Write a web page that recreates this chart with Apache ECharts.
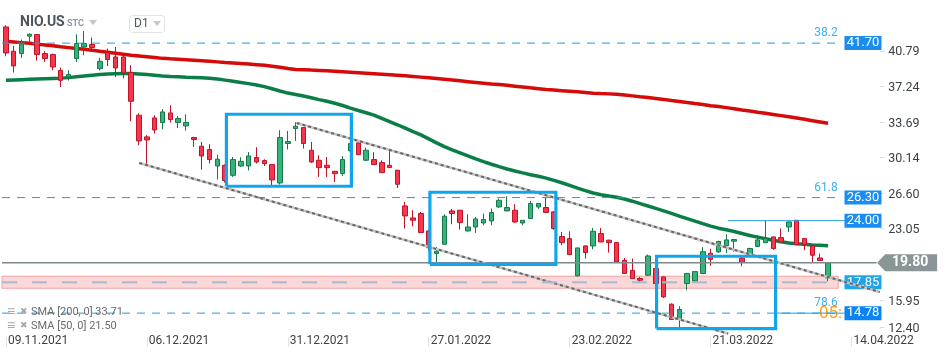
<!DOCTYPE html>
<html><head><meta charset="utf-8">
<script src="https://cdn.jsdelivr.net/npm/echarts@6/dist/echarts.min.js"></script>
<style>html,body{margin:0;padding:0;background:#fff}#c{width:950px;height:360px}</style>
</head><body><div id="c"></div>
<script>
// ---------- DATA ----------
const dates = ['09.11.2021','10.11.2021','11.11.2021','12.11.2021','15.11.2021','16.11.2021','17.11.2021','18.11.2021','19.11.2021','22.11.2021','23.11.2021','24.11.2021','26.11.2021','29.11.2021','30.11.2021',
'01.12.2021','02.12.2021','03.12.2021','06.12.2021','07.12.2021','08.12.2021','09.12.2021','10.12.2021','13.12.2021','14.12.2021','15.12.2021','16.12.2021','17.12.2021','20.12.2021','21.12.2021','22.12.2021','23.12.2021','27.12.2021','28.12.2021','29.12.2021','30.12.2021','31.12.2021',
'03.01.2022','04.01.2022','05.01.2022','06.01.2022','07.01.2022','10.01.2022','11.01.2022','12.01.2022','13.01.2022','14.01.2022','18.01.2022','19.01.2022','20.01.2022','21.01.2022','24.01.2022','25.01.2022','26.01.2022','27.01.2022','28.01.2022','31.01.2022',
'01.02.2022','02.02.2022','03.02.2022','04.02.2022','07.02.2022','08.02.2022','09.02.2022','10.02.2022','11.02.2022','14.02.2022','15.02.2022','16.02.2022','17.02.2022','18.02.2022','22.02.2022','23.02.2022','24.02.2022','25.02.2022','28.02.2022',
'01.03.2022','02.03.2022','03.03.2022','04.03.2022','07.03.2022','08.03.2022','09.03.2022','10.03.2022','11.03.2022','14.03.2022','15.03.2022','16.03.2022','17.03.2022','18.03.2022','21.03.2022','22.03.2022','23.03.2022','24.03.2022','25.03.2022','28.03.2022','29.03.2022','30.03.2022','31.03.2022',
'01.04.2022','04.04.2022','05.04.2022','06.04.2022','07.04.2022','08.04.2022','11.04.2022','12.04.2022','13.04.2022','14.04.2022','18.04.2022','19.04.2022','20.04.2022','21.04.2022','22.04.2022','25.04.2022','26.04.2022','27.04.2022','28.04.2022','29.04.2022','02.05.2022'];

// [open, close, low, high]
const candles = [
[43.31,40.72,40.39,43.48],[40.89,39.43,38.77,41.42],[40.66,41.60,40.22,42.06],[42.39,42.58,41.82,42.68],[42.55,40.56,39.96,42.60],
[40.66,40.16,39.82,40.89],[40.56,39.32,38.99,40.66],[38.99,37.99,37.33,39.26],[38.33,38.57,37.97,38.99],[40.16,41.66,39.82,42.58],
[41.32,41.66,40.49,42.91],[41.56,41.26,40.82,42.26],[39.16,39.89,38.99,40.22],[40.76,40.06,39.42,41.16],[40.32,39.22,38.33,41.32],
[40.32,38.73,38.20,40.42],[38.76,35.90,33.91,39.49],[34.51,31.95,31.52,34.71],[32.35,32.05,29.62,32.52],[34.24,33.04,32.68,34.51],
[33.78,34.84,33.11,35.11],[34.74,34.08,33.78,35.51],[33.78,34.18,33.24,34.44],[33.44,33.78,32.98,34.61],[32.29,32.09,31.35,32.35],
[31.42,30.45,29.09,31.85],[31.09,30.09,29.69,31.62],[29.45,30.12,28.10,30.59],[29.52,28.00,27.80,29.60],[28.52,30.09,28.36,30.35],
[29.45,29.92,29.35,30.32],[29.45,30.45,29.00,30.85],[30.29,29.85,29.69,31.32],[29.99,29.69,29.45,30.12],[29.59,28.06,27.53,29.65],
[27.76,32.29,27.60,33.02],[31.69,31.89,31.09,32.94],[33.18,33.41,31.95,33.81],[33.28,31.69,31.19,33.31],[31.02,29.85,29.75,31.85],
[30.02,29.29,28.36,30.52],[29.52,29.29,28.36,30.35],[28.92,28.69,27.86,28.95],[28.69,30.09,28.46,30.42],[30.95,31.69,30.80,31.90],
[31.75,30.59,30.55,32.02],[30.02,31.02,29.98,31.29],[30.09,29.59,29.55,30.82],[29.79,28.79,28.75,30.02],[29.52,29.29,29.25,30.95],
[29.03,27.63,27.26,29.06],[25.47,24.47,23.21,25.87],[24.27,24.04,23.44,25.04],[24.71,22.81,22.78,24.87],[22.97,21.30,21.00,23.10],
[20.72,20.95,19.88,21.38],[21.65,24.44,21.60,24.64],[24.97,24.71,23.64,25.17],[25.04,23.81,23.11,25.07],[22.97,23.37,22.93,24.64],
[23.37,24.17,22.77,24.37],[23.77,24.11,23.54,24.71],[23.97,24.81,23.54,25.21],[25.37,26.03,25.27,26.20],[24.97,25.31,24.95,26.43],
[25.04,23.87,23.77,25.64],[23.77,24.04,23.54,24.06],[24.21,25.71,24.18,25.97],[25.37,25.71,25.17,25.73],[25.31,24.81,24.78,26.30],
[24.87,23.21,23.10,24.95],[22.41,21.81,21.55,22.87],[22.21,20.62,20.60,22.94],[18.49,21.28,18.45,21.30],[21.48,20.82,20.22,21.55],
[21.48,22.94,21.15,23.27],[22.71,21.88,21.85,23.27],[22.05,21.81,20.82,22.10],[21.81,19.88,19.85,21.85],[20.05,18.73,18.70,20.28],
[19.05,18.23,18.20,20.22],[18.23,18.06,17.83,18.39],[18.56,20.48,18.50,20.62],[19.23,17.73,17.60,19.40],[18.39,16.40,16.30,18.45],
[15.67,14.14,14.10,15.75],[14.14,15.14,13.40,15.47],[17.73,18.73,17.06,18.80],[17.99,18.92,17.90,18.95],[18.73,20.90,18.70,21.35],
[20.75,20.15,19.50,21.20],[20.88,21.92,20.80,22.00],[21.50,22.08,20.78,22.63],[21.95,22.12,20.90,22.15],[20.25,19.85,19.46,20.45],
[20.50,21.22,20.40,21.30],[21.43,22.08,21.38,22.55],[21.81,22.21,21.75,24.02],[22.38,21.22,21.10,22.40],[22.31,21.88,21.85,23.21],
[23.37,23.87,22.87,23.94],[24.04,21.62,21.60,24.06],[22.21,21.62,21.05,22.25],[21.48,20.55,19.88,21.50],[20.28,20.02,19.98,20.72],
[18.29,19.80,17.96,19.88]];

const sma200 = [41.89,41.82,41.75,41.68,41.60,41.52,41.44,41.34,41.25,41.16,41.08,40.99,40.89,40.80,40.70,40.60,40.49,40.42,40.35,40.27,
40.18,40.13,40.09,40.05,40.00,39.95,39.89,39.83,39.77,39.72,39.67,39.61,39.55,39.49,39.40,39.30,39.18,39.08,39.05,39.01,
38.98,38.94,38.90,38.85,38.80,38.75,38.70,38.65,38.60,38.55,38.50,38.44,38.38,38.31,38.24,38.17,38.10,38.02,37.94,37.86,
37.78,37.70,37.62,37.57,37.49,37.41,37.33,37.24,37.16,37.08,37.02,36.96,36.90,36.84,36.78,36.71,36.67,36.64,36.60,36.52,
36.44,36.35,36.27,36.18,36.09,35.98,35.88,35.78,35.67,35.57,35.46,35.38,35.27,35.16,35.04,34.93,34.81,34.70,34.59,34.47,
34.35,34.23,34.10,33.97,33.84,33.71];

const sma50 = [37.99,38.03,38.06,38.09,38.12,38.15,38.18,38.21,38.26,38.34,38.42,38.50,38.56,38.62,38.65,38.67,38.66,38.62,38.57,38.50,
38.43,38.38,38.34,38.30,38.27,38.24,38.20,38.12,38.01,37.90,37.78,37.66,37.52,37.36,37.15,36.93,36.72,36.58,36.42,36.25,
36.07,35.90,35.70,35.48,35.22,34.98,34.76,34.52,34.20,33.88,33.56,33.22,32.88,32.55,32.15,31.75,31.38,31.05,30.75,30.45,
30.15,29.88,29.62,29.38,29.15,28.95,28.76,28.58,28.42,28.24,28.02,27.78,27.52,27.25,27.00,26.76,26.58,26.45,26.34,26.16,
25.94,25.70,25.46,25.22,24.98,24.72,24.46,24.20,23.95,23.70,23.46,23.25,23.10,22.92,22.72,22.52,22.36,22.20,22.04,21.90,
21.78,21.70,21.64,21.58,21.54,21.50];

const yTicks = [12.40, 15.95, 23.05, 26.60, 30.14, 33.69, 37.24, 40.79];
const fibPct = ['38.2', '61.8', '78.6'];
const fibPrice = [41.70, 26.30, 14.78];
const resistance = 24.00;
const supportLevel = 17.85;
const supportZone = [17.26, 18.46];
const lastPrice = 19.80;
// trend channel & rectangles, in [candle index, price]
const channelUpper = [[37.13, 33.74], [111.6, 16.89]];
const channelLower = [[17.03, 29.75], [92.25, 12.74]];
const boxes = [[28.16, 44.12, 27.43, 34.61], [54.15, 70.24, 19.65, 26.83], [83.1, 98.3, 13.24, 20.45]];

// ---------- CHART ----------
const FONT = 'Roboto, "Noto Sans", sans-serif';
const lineEnd = 106.74;
const tagX = 109.46;
const chart = echarts.init(document.getElementById('c'), null, {renderer: 'canvas'});

// a horizontal level drawn as a two-point line series (optionally with a text label via markLine)
function levelSeries(price, x0, x1, lineStyle, label, z) {
  const s = {
    type: 'line', xAxisIndex: 1, z: z || 7, silent: true, symbol: 'none',
    color: lineStyle.color,
    lineStyle: lineStyle,
    data: [[x0, price], [x1, price]]
  };
  if (label) {
    s.markLine = {
      silent: true, animation: false, symbol: ['none', 'none'],
      lineStyle: {color: 'rgba(0,0,0,0)', width: 0},
      label: label,
      data: [[{coord: [x0, price]}, {coord: [x1, price]}]]
    };
  }
  return s;
}

const levelSeriesList = [];
fibPrice.forEach((p, i) => {
  levelSeriesList.push(levelSeries(p, -0.5, lineEnd,
    {color: '#1d9be3', width: 1, type: [8, 7]},
    {show: true, position: 'insideEndTop', formatter: fibPct[i], color: '#3cb0ef', fontSize: 12, fontFamily: FONT, distance: 4}));
});
levelSeriesList.push(levelSeries(resistance, 92.2, lineEnd + 0.4, {color: '#2a9ee6', width: 1, type: 'solid'}));
levelSeriesList.push(levelSeries(fibPrice[2], 98.3, lineEnd + 0.4, {color: '#2a9ee6', width: 1, type: 'solid'}));
levelSeriesList.push(levelSeries(supportLevel, -0.5, 106.3, {color: '#a9b8cc', width: 2, type: [15, 15]}));
levelSeriesList.push(levelSeries(lastPrice, -0.5, 111.2, {color: '#7f898c', width: 1.5, type: 'solid'}, null, 4));

function priceTag(price, bg) {
  return {
    coord: [tagX, price], symbol: 'rect', symbolSize: [37, 14], itemStyle: {color: bg},
    label: {show: true, position: 'inside', formatter: price.toFixed(2), color: '#fff', fontSize: 13, fontFamily: FONT}
  };
}
const tags = [
  priceTag(fibPrice[0], '#1a8ef0'),
  priceTag(fibPrice[1], '#1a8ef0'),
  priceTag(resistance, '#1a8ef0'),
  priceTag(supportLevel, '#1fa3ec'),
  priceTag(fibPrice[2], '#0a84f5'),
  {
    coord: [115.1, lastPrice], symbol: 'path://M0,8L8,0L60,0L60,16L8,16Z', symbolSize: [60, 17],
    itemStyle: {color: '#8a9598'},
    label: {show: true, position: 'inside', formatter: lastPrice.toFixed(2), color: '#fff', fontSize: 14,
      fontWeight: 'bold', fontFamily: FONT, offset: [3, 0]}
  }
];

const boxSeries = boxes.map(b => ({
  type: 'line', xAxisIndex: 1, yAxisIndex: 0, z: 6, silent: true, symbol: 'none', color: '#10a6ee',
  lineStyle: {color: '#10a6ee', width: 3.2, join: 'miter'},
  data: [[b[0], b[2]], [b[1], b[2]], [b[1], b[3]], [b[0], b[3]], [b[0], b[2]]]
}));

function channel(data) {
  return [
    {type: 'line', xAxisIndex: 1, z: 5, silent: true, symbol: 'none', data: data,
     lineStyle: {color: '#c4c4c4', width: 2.5}},
    {type: 'line', xAxisIndex: 1, z: 5, silent: true, symbol: 'none', data: data,
     lineStyle: {color: '#666666', width: 2, type: [3, 3]}}
  ];
}

const option = {
  animation: false,
  backgroundColor: '#fff',
  textStyle: {fontFamily: FONT},
  grid: {left: 2, right: 8.4, top: 2, bottom: 23, outerBoundsMode: 'none', containLabel: false},
  xAxis: [{
    type: 'category', data: dates, boundaryGap: true,
    axisLine: {show: false},
    axisTick: {show: true, alignWithLabel: true, interval: (i) => i % 18 === 0, length: 10, lineStyle: {color: '#e2e2e2'}},
    axisLabel: {interval: (i) => i % 18 === 0, align: 'left', verticalAlign: 'middle', margin: 4,
      padding: [0, 0, 0, 2], color: '#3d4246', fontSize: 12, fontFamily: FONT},
    splitLine: {show: false}
  }, {
    type: 'value', min: -0.5, max: 119.5, show: false
  }],
  yAxis: {
    type: 'value', position: 'right', min: 12.40, max: 45.80, scale: true,
    splitLine: {show: false}, axisLine: {show: false}, axisTick: {show: false},
    axisLabel: {
      inside: true, margin: 22, customValues: yTicks,
      formatter: (v) => {
        const s = '{t|–}{n|' + v.toFixed(2) + '}';
        return Math.abs(v - 12.40) < 1e-6 ? s + '\n{n| }' : s;
      },
      rich: {
        t: {color: '#d0d0d0', fontSize: 9, padding: [0, 3, 0, 0], fontFamily: FONT},
        n: {color: '#3d4246', fontSize: 12.5, lineHeight: 16, fontFamily: FONT}
      }
    }
  },
  series: [
    {type: 'line', name: 'SMA200', data: sma200, symbol: 'none', z: 1, silent: true, color: '#d50a0a',
     lineStyle: {color: '#d50a0a', width: 3.5}},
    {type: 'line', name: 'SMA50', data: sma50, symbol: 'none', z: 1, silent: true, color: '#0b7e48',
     lineStyle: {color: '#0b7e48', width: 3.5}},
    {type: 'candlestick', name: 'NIO.US', data: candles, barWidth: 5, z: 2,
     itemStyle: {color: '#36b27b', color0: '#f4374d', borderColor: '#17794a', borderColor0: '#bf1329', borderWidth: 1}},
    {type: 'line', xAxisIndex: 1, data: [], z: 3, silent: true,
     markArea: {silent: true, itemStyle: {color: 'rgba(247,160,160,0.42)', borderColor: '#f2a3a3', borderWidth: 1},
       data: [[{coord: [-0.5, supportZone[0]]}, {coord: [106.3, supportZone[1]]}]]}},
    ...channel(channelUpper),
    ...channel(channelLower),
    ...boxSeries,
    ...levelSeriesList,
    {type: 'line', xAxisIndex: 1, data: [], z: 8, silent: true,
     markPoint: {silent: true, animation: false, data: tags}}
  ],
  graphic: [
    {type: 'text', left: 20, top: 15, z: 10, style: {text: 'NIO.US', font: 'bold 14px ' + FONT, fill: '#4b555d'}},
    {type: 'text', left: 67, top: 19, z: 10, style: {text: 'STC', font: 'bold 9px ' + FONT, fill: '#8d98a2'}},
    {type: 'polygon', z: 10, shape: {points: [[89, 20], [97, 20], [93, 25]]}, style: {fill: '#c6c6c6'}},
    {type: 'rect', z: 10, shape: {x: 129.5, y: 15.5, width: 35, height: 17, r: 3}, style: {fill: 'rgba(255,255,255,0.6)', stroke: '#e3e3e3', lineWidth: 1}},
    {type: 'text', left: 134, top: 18, z: 11, style: {text: 'D1', font: '12px ' + FONT, fill: '#4f5a62'}},
    {type: 'polygon', z: 11, shape: {points: [[153, 21], [161, 21], [157, 26]]}, style: {fill: '#c8c8c8'}},
    {type: 'text', left: 7, top: 305, z: 10, style: {text: '≡', font: '14px ' + FONT, fill: '#a8a8a8'}},
    {type: 'text', left: 20, top: 307, z: 10, style: {text: '✖', font: '9px "DejaVu Sans"', fill: '#a8a8a8'}},
    {type: 'text', left: 31, top: 307, z: 10, style: {text: 'SMA [200, 0] ' + sma200[sma200.length - 1].toFixed(2), font: '11px ' + FONT, fill: '#6a6a6a'}},
    {type: 'text', left: 7, top: 319, z: 10, style: {text: '≡', font: '14px ' + FONT, fill: '#a8a8a8'}},
    {type: 'text', left: 20, top: 321, z: 10, style: {text: '✖', font: '9px "DejaVu Sans"', fill: '#a8a8a8'}},
    {type: 'text', left: 31, top: 321, z: 10, style: {text: 'SMA [50, 0] ' + sma50[sma50.length - 1].toFixed(2), font: '11px ' + FONT, fill: '#6a6a6a'}},
    {type: 'text', left: 819, top: 305, z: 1, style: {text: '05:', font: '17px ' + FONT, fill: '#f6a21e'}}
  ]
};
chart.setOption(option);
</script>
</body></html>
